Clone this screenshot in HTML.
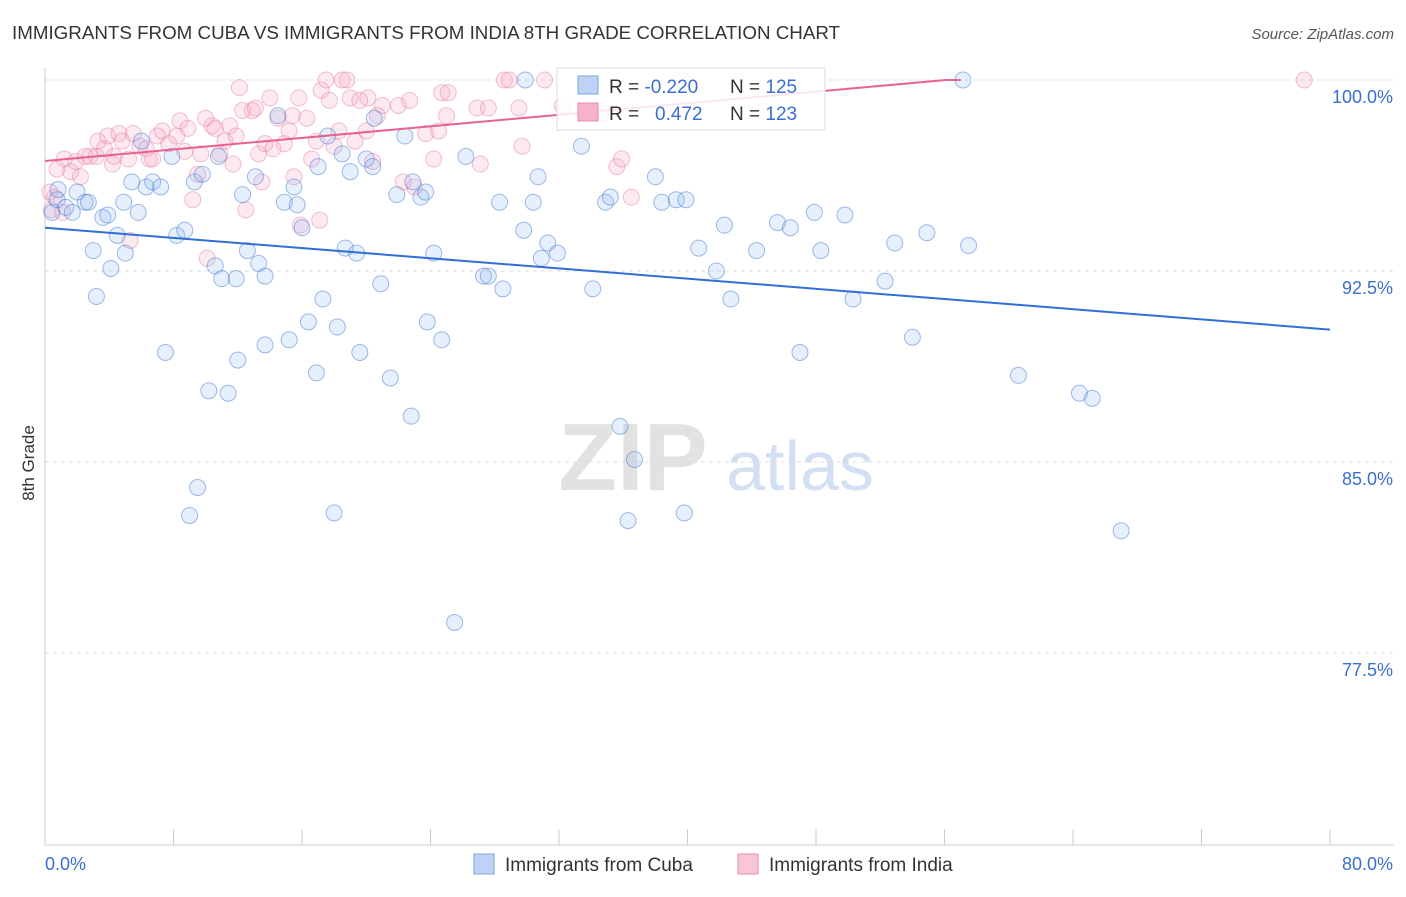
<!DOCTYPE html>
<html><head><meta charset="utf-8"><style>
body{margin:0;background:#fff;font-family:"Liberation Sans",sans-serif}
svg text{font-family:"Liberation Sans",sans-serif}
</style></head><body>
<svg id="chart" width="1406" height="892" viewBox="0 0 1406 892">
<text x="12" y="39" font-size="18" fill="#333" textLength="828" lengthAdjust="spacingAndGlyphs">IMMIGRANTS FROM CUBA VS IMMIGRANTS FROM INDIA 8TH GRADE CORRELATION CHART</text>
<text x="1394" y="39" font-size="15" fill="#555" font-style="italic" text-anchor="end">Source: ZipAtlas.com</text>
<text x="34" y="463" font-size="17" fill="#333" text-anchor="middle" transform="rotate(-90 34 463)">8th Grade</text>
<g><text x="633" y="490" font-size="96" font-family="Liberation Serif" fill="#e2e2e2" text-anchor="middle" font-weight="bold">ZIP</text><text x="800" y="490" font-size="70" fill="#d3dff2" text-anchor="middle">atlas</text></g>
<g id="grid"></g><g id="axes"></g><g id="pts"></g><g id="lines"></g>
<g>
<rect x="557" y="68" width="268" height="62" fill="#fff" fill-opacity="0.85" stroke="#ddd"/>
<rect x="578" y="76" width="20" height="18" fill="#bcd3f5" stroke="#7fa6e0"/>
<text x="609" y="93" font-size="19" fill="#333">R = <tspan fill="#3a6fd0">-0.220</tspan><tspan x="730">N = </tspan><tspan fill="#3a6fd0">125</tspan></text>
<rect x="578" y="103" width="20" height="18" fill="#f6b4c8" stroke="#e88aa8"/>
<text x="609" y="120" font-size="19" fill="#333">R = <tspan x="655" fill="#3a6fd0">0.472</tspan><tspan x="730">N = </tspan><tspan fill="#3a6fd0">123</tspan></text>
</g>
<g>
<rect x="474" y="854" width="20" height="20" fill="#bcd3f5" stroke="#7fa6e0"/>
<text x="505" y="871" font-size="19" fill="#333">Immigrants from Cuba</text>
<rect x="738" y="854" width="20" height="20" fill="#f9c6d6" stroke="#e88aa8"/>
<text x="769" y="871" font-size="19" fill="#333">Immigrants from India</text>
</g>
</svg>
<script>
const cubaX=[57.15,29.9,0.44,0.81,0.75,1.3,1.7,2.0,2.5,2.7,3.0,3.2,3.6,3.9,4.1,4.5,4.9,5.0,5.4,5.8,6.0,6.3,6.7,7.2,7.5,7.9,8.2,8.7,9.3,9.5,9.0,9.8,10.2,10.6,10.8,11.0,11.4,11.9,12.0,12.3,12.6,13.1,13.3,13.7,13.7,14.5,14.9,15.2,15.5,15.7,16.0,16.4,16.9,17.0,17.3,17.6,18.0,18.2,18.5,18.7,19.0,19.4,19.6,20.0,20.4,20.5,20.9,21.5,21.9,22.4,22.8,22.9,23.4,23.7,23.8,24.2,24.7,25.5,26.2,27.3,27.6,28.3,28.5,29.8,30.4,30.7,30.9,31.3,31.9,33.4,34.1,34.9,35.2,35.8,36.3,36.7,38.0,38.4,39.3,39.8,39.9,40.7,41.8,42.3,42.7,44.3,45.6,46.4,47.0,47.9,48.3,49.8,50.3,52.3,52.9,54.0,54.9,57.5,60.6,64.4,65.2,67.0];
const cubaY=[100,100,94.8,95.7,95.3,95.0,94.8,95.6,95.2,95.2,93.3,91.5,94.6,94.7,92.6,93.9,95.2,93.2,96.0,94.8,97.6,95.8,96.0,95.8,89.3,97.0,93.9,94.1,96.0,84.0,82.9,96.3,87.8,92.7,97.0,92.2,87.7,92.2,89.0,95.5,93.3,96.2,92.8,89.6,92.3,98.6,95.2,89.8,95.8,95.1,94.2,90.5,88.5,96.6,91.4,97.8,83.0,90.3,97.1,93.4,96.4,93.2,89.3,96.9,96.6,98.5,92.0,88.3,95.5,97.8,86.8,96.0,95.4,95.6,90.5,93.2,89.8,78.7,97.0,92.3,92.3,95.2,91.8,94.1,95.2,96.2,93.0,93.6,93.2,97.4,91.8,95.2,95.4,86.4,82.7,85.1,96.2,95.2,95.3,83.0,95.3,93.4,92.5,94.3,91.4,93.3,94.4,94.2,89.3,94.8,93.3,94.7,91.4,92.1,93.6,89.9,94.0,93.5,88.4,87.7,87.5,82.3];
const indiaX=[78.4,0.3,0.4,0.6,0.75,1.1,1.2,1.6,1.9,2.2,2.5,2.8,3.2,3.3,3.7,3.9,4.2,4.3,4.6,4.8,5.2,5.3,5.5,5.9,6.3,6.5,6.7,7.0,7.3,7.7,8.2,8.4,8.7,8.9,9.2,9.5,9.7,10.0,10.1,10.4,10.6,10.9,11.2,11.5,11.7,11.9,12.1,12.3,12.5,12.9,13.1,13.3,13.5,13.7,14.0,14.2,14.5,14.9,15.2,15.4,15.5,15.8,15.9,16.3,16.6,16.9,17.1,17.2,17.5,17.7,18.0,18.3,18.5,18.8,19.0,19.3,19.6,20.0,20.1,20.4,20.7,21.0,22.0,22.3,22.7,23.0,23.7,24.2,24.5,24.7,25.0,25.1,26.9,27.1,27.6,28.6,28.9,29.5,29.7,31.1,32.2,34.8,35.6,35.9,36.5,39.7];
const indiaY=[100,95.6,94.9,95.4,96.5,94.8,96.9,96.4,96.8,96.2,97.0,97.0,97.0,97.6,97.3,97.8,96.7,97.0,97.9,97.6,96.9,93.7,97.9,97.4,97.3,96.9,96.9,97.8,98.0,97.5,97.8,98.4,97.2,98.1,95.3,96.3,97.1,98.5,93.0,98.2,98.1,97.1,97.6,98.2,96.7,97.8,99.7,98.8,94.9,98.8,98.9,97.1,96.0,97.5,99.3,97.3,98.5,97.5,98.0,98.6,96.2,99.3,94.3,98.5,96.9,97.6,94.5,99.6,100,99.2,97.4,98.0,100,100,99.3,97.6,99.2,98.0,99.3,96.8,98.6,99.0,99.0,96.0,99.2,95.8,97.9,96.9,98.0,99.5,98.6,99.5,98.9,96.7,98.9,100,100,98.9,97.4,100,99.0,98.7,96.6,96.9,95.4,100];
const trendCuba=[94.2,90.2];   // y at x=0, x=80
const trendIndia=[96.82,0.0567]; // intercept, slope per %
const xTicks=[0,80];
const yTicks=[100,92.5,85,77.5];
const NS="http://www.w3.org/2000/svg";
const X=v=>45+v/80*1285, Y=v=>80+(100-v)/7.5*191;
function mk(t,a,p){const e=document.createElementNS(NS,t);for(const k in a)e.setAttribute(k,a[k]);p.appendChild(e);return e;}
const grid=document.getElementById('grid'),axes=document.getElementById('axes'),pts=document.getElementById('pts'),lines=document.getElementById('lines');
yTicks.forEach(v=>{
 const l=mk('line',{x1:45,x2:1394,y1:Y(v),y2:Y(v),stroke:'#ddd','stroke-dasharray':'4 4'},grid);
 
 
 const t=mk('text',{x:1393,y:Y(v)+23,'font-size':18,fill:'#3a6fd0','text-anchor':'end'},axes);t.textContent=v.toFixed(1)+'%';
 
 
});
mk('line',{x1:45,x2:45,y1:68,y2:845,stroke:'#ccc'},axes);
mk('line',{x1:45,x2:1394,y1:845,y2:845,stroke:'#ccc'},axes);
for(let i=0;i<=10;i++){const tk=mk('line',{x1:X(i*8),x2:X(i*8),y1:829,y2:845,stroke:'#ccc'},axes);
 
 }
xTicks.forEach((v,i)=>{const t=mk('text',{x:i?1393:45,y:870,'font-size':18,fill:'#3a6fd0','text-anchor':i?'end':'start'},axes);t.textContent=v.toFixed(1)+'%';
 
 });
indiaX.forEach((v,i)=>{const c=mk('circle',{cx:X(v),cy:Y(indiaY[i]),r:8,fill:'rgba(244,160,190,0.22)',stroke:'rgba(232,130,165,0.5)'},pts);
 
 });
cubaX.forEach((v,i)=>{const c=mk('circle',{cx:X(v),cy:Y(cubaY[i]),r:8,fill:'rgba(140,180,240,0.22)',stroke:'rgba(70,120,210,0.5)'},pts);
 
 });
const lc=mk('line',{x1:X(0),y1:Y(trendCuba[0]),x2:X(80),y2:Y(trendCuba[1]),stroke:'#2f6fd6','stroke-width':2},lines);


const xe=Math.min(80,(100-trendIndia[0])/trendIndia[1]);
const li=mk('polyline',{points:`${X(0)},${Y(trendIndia[0])} ${X(xe)},${Y(100)} ${X(xe)+15},${Y(100)}`,fill:'none',stroke:'#e8628e','stroke-width':2},lines);


</script>
</body></html>
